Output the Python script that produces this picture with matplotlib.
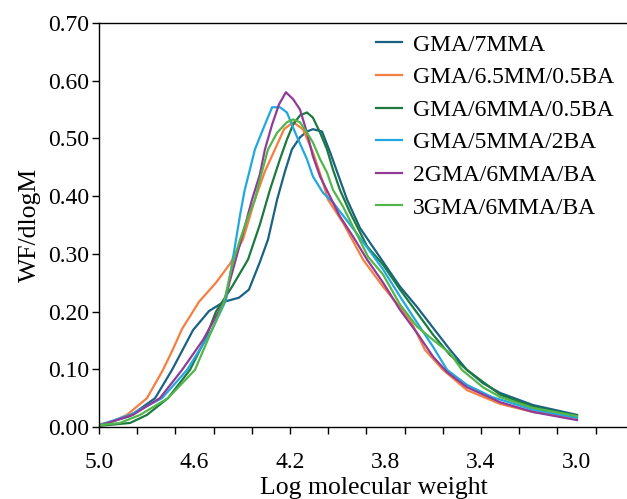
import numpy as np
import matplotlib
matplotlib.use("Agg")
import matplotlib.pyplot as plt

plt.rcParams['font.family'] = ['Liberation Serif', 'DejaVu Serif']

series_names = ["GMA/7MMA", "GMA/6.5MM/0.5BA", "GMA/6MMA/0.5BA",
                "GMA/5MMA/2BA", "2GMA/6MMA/BA", "3GMA/6MMA/BA"]
colors = ["#1a6282", "#f57f3f", "#1c7a3e", "#22a8e0", "#913b96", "#52b64a"]

x_7mma = [5.000, 4.870, 4.765, 4.694, 4.606, 4.539, 4.476, 4.414, 4.372, 4.326, 4.292,
          4.254, 4.221, 4.192, 4.158, 4.129, 4.104, 4.066, 4.032, 3.961, 3.907, 3.810,
          3.739, 3.668, 3.601, 3.530, 3.459, 3.392, 3.320, 3.182, 2.998]
y_7mma = [0.003, 0.019, 0.050, 0.099, 0.168, 0.201, 0.217, 0.224, 0.238, 0.286, 0.325,
          0.394, 0.443, 0.481, 0.502, 0.512, 0.516, 0.512, 0.476, 0.394, 0.345, 0.286,
          0.243, 0.208, 0.172, 0.134, 0.099, 0.076, 0.059, 0.038, 0.021]

x_65mm = [5.000, 4.958, 4.883, 4.799, 4.732, 4.690, 4.652, 4.581, 4.510, 4.451, 4.397,
          4.347, 4.305, 4.263, 4.225, 4.187, 4.146, 4.104, 4.066, 4.041, 3.978, 3.894,
          3.810, 3.697, 3.635, 3.559, 3.459, 3.320, 3.182, 2.998]
y_65mm = [0.005, 0.007, 0.021, 0.050, 0.099, 0.135, 0.170, 0.217, 0.250, 0.283, 0.325,
          0.394, 0.443, 0.481, 0.516, 0.528, 0.516, 0.476, 0.429, 0.394, 0.354, 0.290,
          0.243, 0.186, 0.134, 0.099, 0.064, 0.040, 0.026, 0.016]

x_6mma = [5.000, 4.870, 4.799, 4.711, 4.619, 4.556, 4.510, 4.443, 4.376, 4.326, 4.284,
          4.242, 4.213, 4.187, 4.158, 4.129, 4.104, 4.074, 4.045, 4.020, 3.991, 3.949,
          3.877, 3.810, 3.739, 3.668, 3.601, 3.530, 3.459, 3.320, 3.182, 2.998]
y_6mma = [0.002, 0.007, 0.021, 0.050, 0.099, 0.151, 0.200, 0.243, 0.290, 0.351, 0.411,
          0.464, 0.498, 0.524, 0.540, 0.545, 0.536, 0.510, 0.481, 0.446, 0.411, 0.372,
          0.313, 0.281, 0.238, 0.198, 0.160, 0.125, 0.099, 0.056, 0.035, 0.019]

x_5mma = [5.000, 4.870, 4.736, 4.631, 4.527, 4.468, 4.448, 4.428, 4.408, 4.390, 4.368,
          4.347, 4.305, 4.275, 4.242, 4.213, 4.171, 4.129, 4.104, 4.062, 4.020, 3.949,
          3.877, 3.810, 3.739, 3.668, 3.601, 3.542, 3.459, 3.354, 3.182, 2.998]
y_5mma = [0.003, 0.021, 0.050, 0.099, 0.168, 0.220, 0.270, 0.320, 0.370, 0.410, 0.446,
          0.481, 0.524, 0.554, 0.554, 0.545, 0.503, 0.464, 0.434, 0.406, 0.389, 0.351,
          0.311, 0.273, 0.226, 0.181, 0.139, 0.099, 0.073, 0.052, 0.030, 0.016]

x_2gma = [5.000, 4.858, 4.745, 4.652, 4.564, 4.476, 4.430, 4.393, 4.359, 4.326, 4.305,
          4.275, 4.246, 4.217, 4.187, 4.158, 4.129, 4.104, 4.074, 4.032, 3.991, 3.936,
          3.877, 3.810, 3.739, 3.668, 3.601, 3.542, 3.459, 3.320, 3.182, 2.998]
y_2gma = [0.002, 0.021, 0.050, 0.099, 0.151, 0.217, 0.286, 0.342, 0.394, 0.438, 0.481,
          0.524, 0.559, 0.580, 0.568, 0.550, 0.510, 0.469, 0.434, 0.399, 0.365, 0.330,
          0.290, 0.250, 0.203, 0.163, 0.122, 0.095, 0.069, 0.043, 0.026, 0.012]

x_3gma = [5.000, 4.912, 4.828, 4.711, 4.598, 4.527, 4.476, 4.439, 4.409, 4.380, 4.347,
          4.326, 4.292, 4.254, 4.213, 4.187, 4.158, 4.129, 4.104, 4.074, 4.045, 4.020,
          3.978, 3.936, 3.873, 3.810, 3.739, 3.668, 3.601, 3.530, 3.480, 3.392, 3.320,
          3.182, 2.998]
y_3gma = [0.003, 0.007, 0.021, 0.050, 0.099, 0.168, 0.217, 0.286, 0.325, 0.359, 0.394,
          0.429, 0.481, 0.510, 0.528, 0.533, 0.528, 0.510, 0.493, 0.464, 0.441, 0.411,
          0.382, 0.347, 0.295, 0.264, 0.212, 0.174, 0.151, 0.128, 0.099, 0.069, 0.052,
          0.033, 0.019]

xs = [x_7mma, x_65mm, x_6mma, x_5mma, x_2gma, x_3gma]
ys = [y_7mma, y_65mm, y_6mma, y_5mma, y_2gma, y_3gma]

x_label_values = [5.0, 4.6, 4.2, 3.8, 3.4, 3.0]
x_label_texts = ["5.0", "4.6", "4.2", "3.8", "3.4", "3.0"]
y_tick_values = [0.0, 0.1, 0.2, 0.3, 0.4, 0.5, 0.6, 0.7]

W, H = 627, 499
fig = plt.figure(figsize=(W / 100, H / 100), dpi=100)
left, bottom, top = 99 / W, (H - 427) / H, (H - 23) / H
xmin, xmax = 5.0, 2.7
px_per_unit = 238.75
ax = fig.add_axes([left, bottom, (xmin - xmax) * px_per_unit / W, top - bottom])

for x, y, c, n in zip(xs, ys, colors, series_names):
    ax.plot(x, y, color=c, lw=1.6, label=n)

ax.set_xlim(xmin, xmax)
ax.set_ylim(0, 0.70)

# tick marks every 0.16 (as in the original figure), labels every 0.4
ax.xaxis.remove_overlapping_locs = False
ax.set_xticks(np.arange(5.0, 2.75, -0.16))
ax.set_xticklabels([])
ax.set_xticks(x_label_values, minor=True)
ax.set_xticklabels(x_label_texts, minor=True)
ax.tick_params(axis='x', which='major', direction='out', length=5, width=1.0)
ax.tick_params(axis='x', which='minor', length=0, pad=18, labelsize=17)

ax.set_yticks(y_tick_values)
ax.set_yticklabels([f"{v:.2f}" for v in y_tick_values])
ax.tick_params(axis='y', direction='out', length=5, width=1.0, labelsize=17, pad=2)

for s in ['left', 'bottom', 'top']:
    ax.spines[s].set_linewidth(1.0)
ax.spines['right'].set_visible(False)

ax.set_xlabel("Log molecular weight", fontsize=18.5, labelpad=3)
ax.set_ylabel("WF/dlogM", fontsize=18.5, labelpad=5)

ax.legend(loc='upper left', bbox_to_anchor=(376 / W, 1 - 34 / H),
          bbox_transform=fig.transFigure, frameon=False, fontsize=17,
          handlelength=1.1, handletextpad=0.45, labelspacing=0.47,
          borderaxespad=0, borderpad=0)

fig.savefig("out.png", dpi=100)
